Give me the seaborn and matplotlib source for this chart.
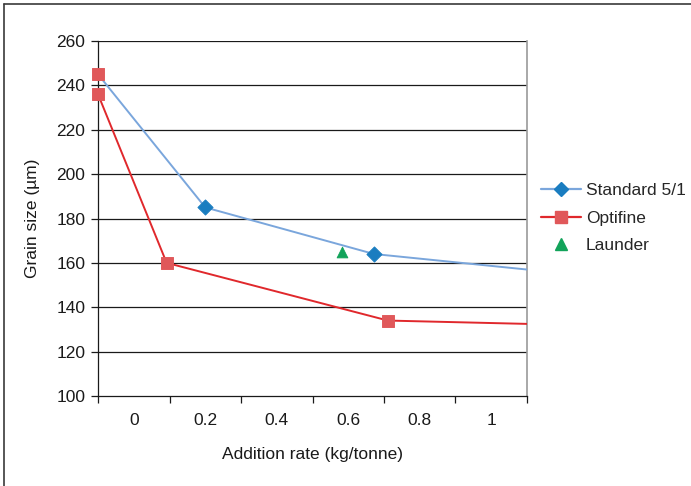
import matplotlib
matplotlib.use("Agg")
import matplotlib.pyplot as plt
import seaborn as sns
import pandas as pd
from matplotlib.lines import Line2D
from matplotlib.ticker import FixedLocator, NullFormatter

sns.set_theme(style="white")
plt.rcParams['font.family'] = ['Liberation Sans', 'DejaVu Sans']

# Data
tick_labels = ["0", "0.2", "0.4", "0.6", "0.8", "1"]
tick_values = [0.0, 0.2, 0.4, 0.6, 0.8, 1.0]
std_x = [-0.1, 0.2, 0.672, 1.1]
std_y = [245, 185, 164, 157]
std_marked = [1, 2]
opt_x = [-0.1, 0.092, 0.711, 1.1]
opt_y = [236, 160, 134, 132.5]
opt_marked = [0, 1, 2]
opt_extra_x = [-0.1]
opt_extra_y = [245]
launder_x = [0.583]
launder_y = [165]

blue_line = "#7aa6dc"
blue_mark = "#1a7dc0"
red_line = "#e0282c"
red_mark = "#e0585a"
green = "#12a35a"
FS = 12.5

fig = plt.figure(figsize=(6.91, 4.86), dpi=100)
ax = fig.add_axes([98/691, 1-396/486, (527-98)/691, (396-41)/486])

std_df = pd.DataFrame({"x": std_x, "y": std_y})
opt_df = pd.DataFrame({"x": opt_x, "y": opt_y})

# gridlines
for v in range(120, 261, 20):
    ax.axhline(v, color="#1a1a1a", lw=0.9, zorder=1)

sns.lineplot(data=std_df, x="x", y="y", ax=ax, color=blue_line, lw=1.4,
             sort=False, estimator=None, zorder=3)
sns.lineplot(data=opt_df, x="x", y="y", ax=ax, color=red_line, lw=1.4,
             sort=False, estimator=None, zorder=3)

sns.scatterplot(x=[std_x[i] for i in std_marked], y=[std_y[i] for i in std_marked],
                ax=ax, marker="D", s=60, color=blue_mark, edgecolor=blue_mark, zorder=5)
sns.scatterplot(x=[opt_x[i] for i in opt_marked] + opt_extra_x,
                y=[opt_y[i] for i in opt_marked] + opt_extra_y,
                ax=ax, marker="s", s=70, color=red_mark, edgecolor=red_mark, zorder=5)
sns.scatterplot(x=launder_x, y=launder_y, ax=ax, marker="^", s=60, color=green,
                edgecolor=green, zorder=5)

for c in ax.collections:
    c.set_clip_on(False)

ax.set_xlim(-0.1, 1.1)
ax.set_ylim(100, 260)
ax.set_yticks(range(100, 261, 20))
ax.set_yticklabels([str(v) for v in range(100, 261, 20)])

# x: tick marks at category boundaries, labels at centres
bounds = [-0.1, 0.1, 0.3, 0.5, 0.7, 0.9, 1.1]
ax.xaxis.set_major_locator(FixedLocator(bounds))
ax.xaxis.set_major_formatter(NullFormatter())
ax.set_xticks(tick_values, minor=True)
ax.set_xticklabels(tick_labels, minor=True)
ax.tick_params(axis="x", which="major", length=5, width=0.9, color="#1a1a1a",
               direction="out", bottom=True)
ax.tick_params(axis="x", which="minor", length=0, labelsize=FS, pad=12,
               labelcolor="#1a1a1a", bottom=True)
ax.tick_params(axis="y", length=5, width=0.9, color="#1a1a1a", direction="out",
               labelsize=FS, labelcolor="#1a1a1a", left=True, pad=4)

for s in ["left", "bottom"]:
    ax.spines[s].set_color("#1a1a1a")
    ax.spines[s].set_linewidth(0.9)
ax.spines["top"].set_visible(False)
ax.spines["right"].set_color("#9a9a9a")
ax.spines["right"].set_linewidth(1.2)

ax.set_xlabel("Addition rate (kg/tonne)", fontsize=FS, color="#1a1a1a", labelpad=14)
ax.set_ylabel("Grain size (µm)", fontsize=FS, color="#1a1a1a", labelpad=12)

handles = [
    Line2D([], [], color=blue_line, lw=1.6, marker="D", markersize=7.5,
           markerfacecolor=blue_mark, markeredgecolor=blue_mark),
    Line2D([], [], color=red_line, lw=1.6, marker="s", markersize=8,
           markerfacecolor=red_mark, markeredgecolor=red_mark),
    Line2D([], [], color="none", lw=0, marker="^", markersize=9,
           markerfacecolor=green, markeredgecolor=green),
]
fig.legend(handles, ["Standard 5/1", "Optifine", "Launder"], loc="upper left",
           bbox_to_anchor=(534/691, 1-176/486), frameon=False, fontsize=FS,
           handlelength=2.3, handletextpad=0.3, labelspacing=0.72, borderaxespad=0)

# outer frame lines (top and left)
fig.add_artist(Line2D([4/691, 1], [1-4/486, 1-4/486], color="#3a3a3a", lw=1.2,
                      transform=fig.transFigure))
fig.add_artist(Line2D([4/691, 4/691], [0, 1-4/486], color="#3a3a3a", lw=1.2,
                      transform=fig.transFigure))

fig.savefig("out.png", dpi=100, facecolor="white")
